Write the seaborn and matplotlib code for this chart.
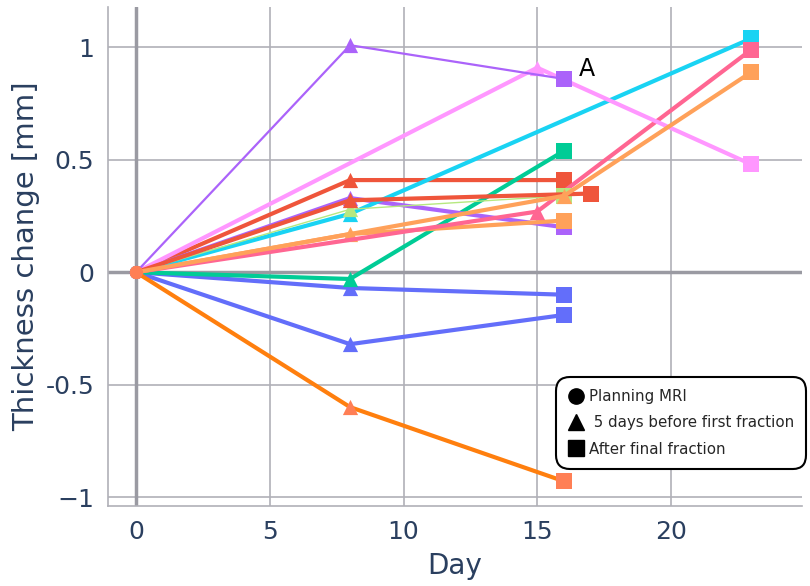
import pandas as pd
import matplotlib.pyplot as plt
import seaborn as sns
from matplotlib.lines import Line2D

# Thickness change per subject, days after planning MRI
series_names = ["S1", "S2", "S3", "S4", "S5", "S6", "S7", "S8",
                "S9", "S10", "S11", "S12", "S13", "S14"]
days = [
    [0, 8, 16],    # S1 blue
    [0, 8, 16],    # S2 blue
    [0, 8, 16],    # S3 red
    [0, 8, 16],    # S4 green
    [0, 8, 16],    # S5 purple
    [0, 8, 16],    # S6 orange
    [0, 8, 23],    # S7 cyan
    [0, 15, 23],   # S8 pink
    [0, 8, 16],    # S9 light green
    [0, 15, 23],   # S10 light pink
    [0, 8, 16],    # S11 purple (A)
    [0, 8, 17],    # S12 red
    [0, 16, 23],   # S13 orange
    [0, 8, 16],    # S14 dark orange
]
changes = [
    [0, -0.07, -0.10],
    [0, -0.32, -0.19],
    [0, 0.41, 0.41],
    [0, -0.03, 0.54],
    [0, 0.33, 0.20],
    [0, 0.17, 0.23],
    [0, 0.26, 1.04],
    [0, 0.27, 0.99],
    [0, 0.28, 0.34],
    [0, 0.91, 0.48],
    [0, 1.01, 0.86],
    [0, 0.32, 0.35],
    [0, 0.34, 0.89],
    [0, -0.60, -0.93],
]
stages = ["Planning MRI", " 5 days before first fraction", "After final fraction"]
line_colors = ["#636EFA", "#636EFA", "#EF553B", "#00CC96", "#AB63FA", "#FFA15A",
               "#19D3F3", "#FF6692", "#B6E880", "#FF97FF", "#AB63FA", "#EF553B",
               "#FFA15A", "#FF7F0E"]
marker_colors = line_colors[:-1] + ["#FF7F55"]
line_widths = [3, 3, 3, 3, 3, 3, 3, 3, 1, 3, 1.6, 3, 3, 3]

rows = []
for name, d, c in zip(series_names, days, changes):
    for i, (x, y) in enumerate(zip(d, c)):
        rows.append({"series": name, "day": x, "change": y, "stage": stages[i]})
df = pd.DataFrame(rows)

sns.set_style("white")
plt.rcParams["font.family"] = ["DejaVu Sans"]
text_color = "#2a3f5f"
grid_color = "#b0b0b8"

fig = plt.figure(figsize=(8.1, 5.86), dpi=100)
ax = fig.add_axes([108 / 810, 1 - 506 / 586, 694 / 810, 499 / 586])

markers = {stages[0]: "o", stages[1]: "^", stages[2]: "s"}
msizes = {stages[0]: 90, stages[1]: 120, stages[2]: 130}
for k, name in enumerate(series_names):
    sub = df[df["series"] == name]
    sns.lineplot(data=sub, x="day", y="change", color=line_colors[k],
                 linewidth=line_widths[k], sort=False, estimator=None,
                 ax=ax, zorder=3 + k, legend=False)
    for st in stages:
        pts = sub[sub["stage"] == st]
        sns.scatterplot(data=pts, x="day", y="change", marker=markers[st],
                        color=marker_colors[k], s=msizes[st], linewidth=0,
                        ax=ax, zorder=3 + k, legend=False)

ax.set_xlim(-1.05, 24.9)
ax.set_ylim(-1.04, 1.18)
ax.set_xticks([0, 5, 10, 15, 20])
ax.set_yticks([-1, -0.5, 0, 0.5, 1])
ax.set_yticklabels(["\u22121", "-0.5", "0", "0.5", "1"])
ax.grid(True, color=grid_color, linewidth=1.2)
ax.axhline(0, color="#9a9aa2", linewidth=2.5, zorder=1)
ax.axvline(0, color="#9a9aa2", linewidth=2.5, zorder=1)
for side in ["top", "right"]:
    ax.spines[side].set_visible(False)
for side in ["left", "bottom"]:
    ax.spines[side].set_color(grid_color)
    ax.spines[side].set_linewidth(1.2)
ax.tick_params(axis="both", direction="out", length=6, width=1.2,
               color=grid_color, labelcolor=text_color, labelsize=18, pad=4)
ax.set_xlabel("Day", fontsize=20, color=text_color, labelpad=6)
ax.set_ylabel("Thickness change [mm]", fontsize=21, color=text_color, labelpad=4)

ax.text(16.55, 0.905, "A", fontsize=17, color="black", va="center", ha="left")

handles = [Line2D([], [], marker="o", color="black", linestyle="", markersize=11),
           Line2D([], [], marker="^", color="black", linestyle="", markersize=11),
           Line2D([], [], marker="s", color="black", linestyle="", markersize=11)]
leg = fig.legend(handles, stages, loc="upper left",
                 bbox_to_anchor=(556 / 810, 1 - 377 / 586), fontsize=10.8,
                 frameon=True, fancybox=True, handletextpad=0.4,
                 handlelength=1.0, labelspacing=0.75, borderpad=0.8,
                 borderaxespad=0)
frame = leg.get_frame()
frame.set_boxstyle("round,pad=0,rounding_size=0.9")
frame.set_edgecolor("black")
frame.set_linewidth(1.5)
frame.set_alpha(1)

fig.savefig("out.png", dpi=100, facecolor="white")
